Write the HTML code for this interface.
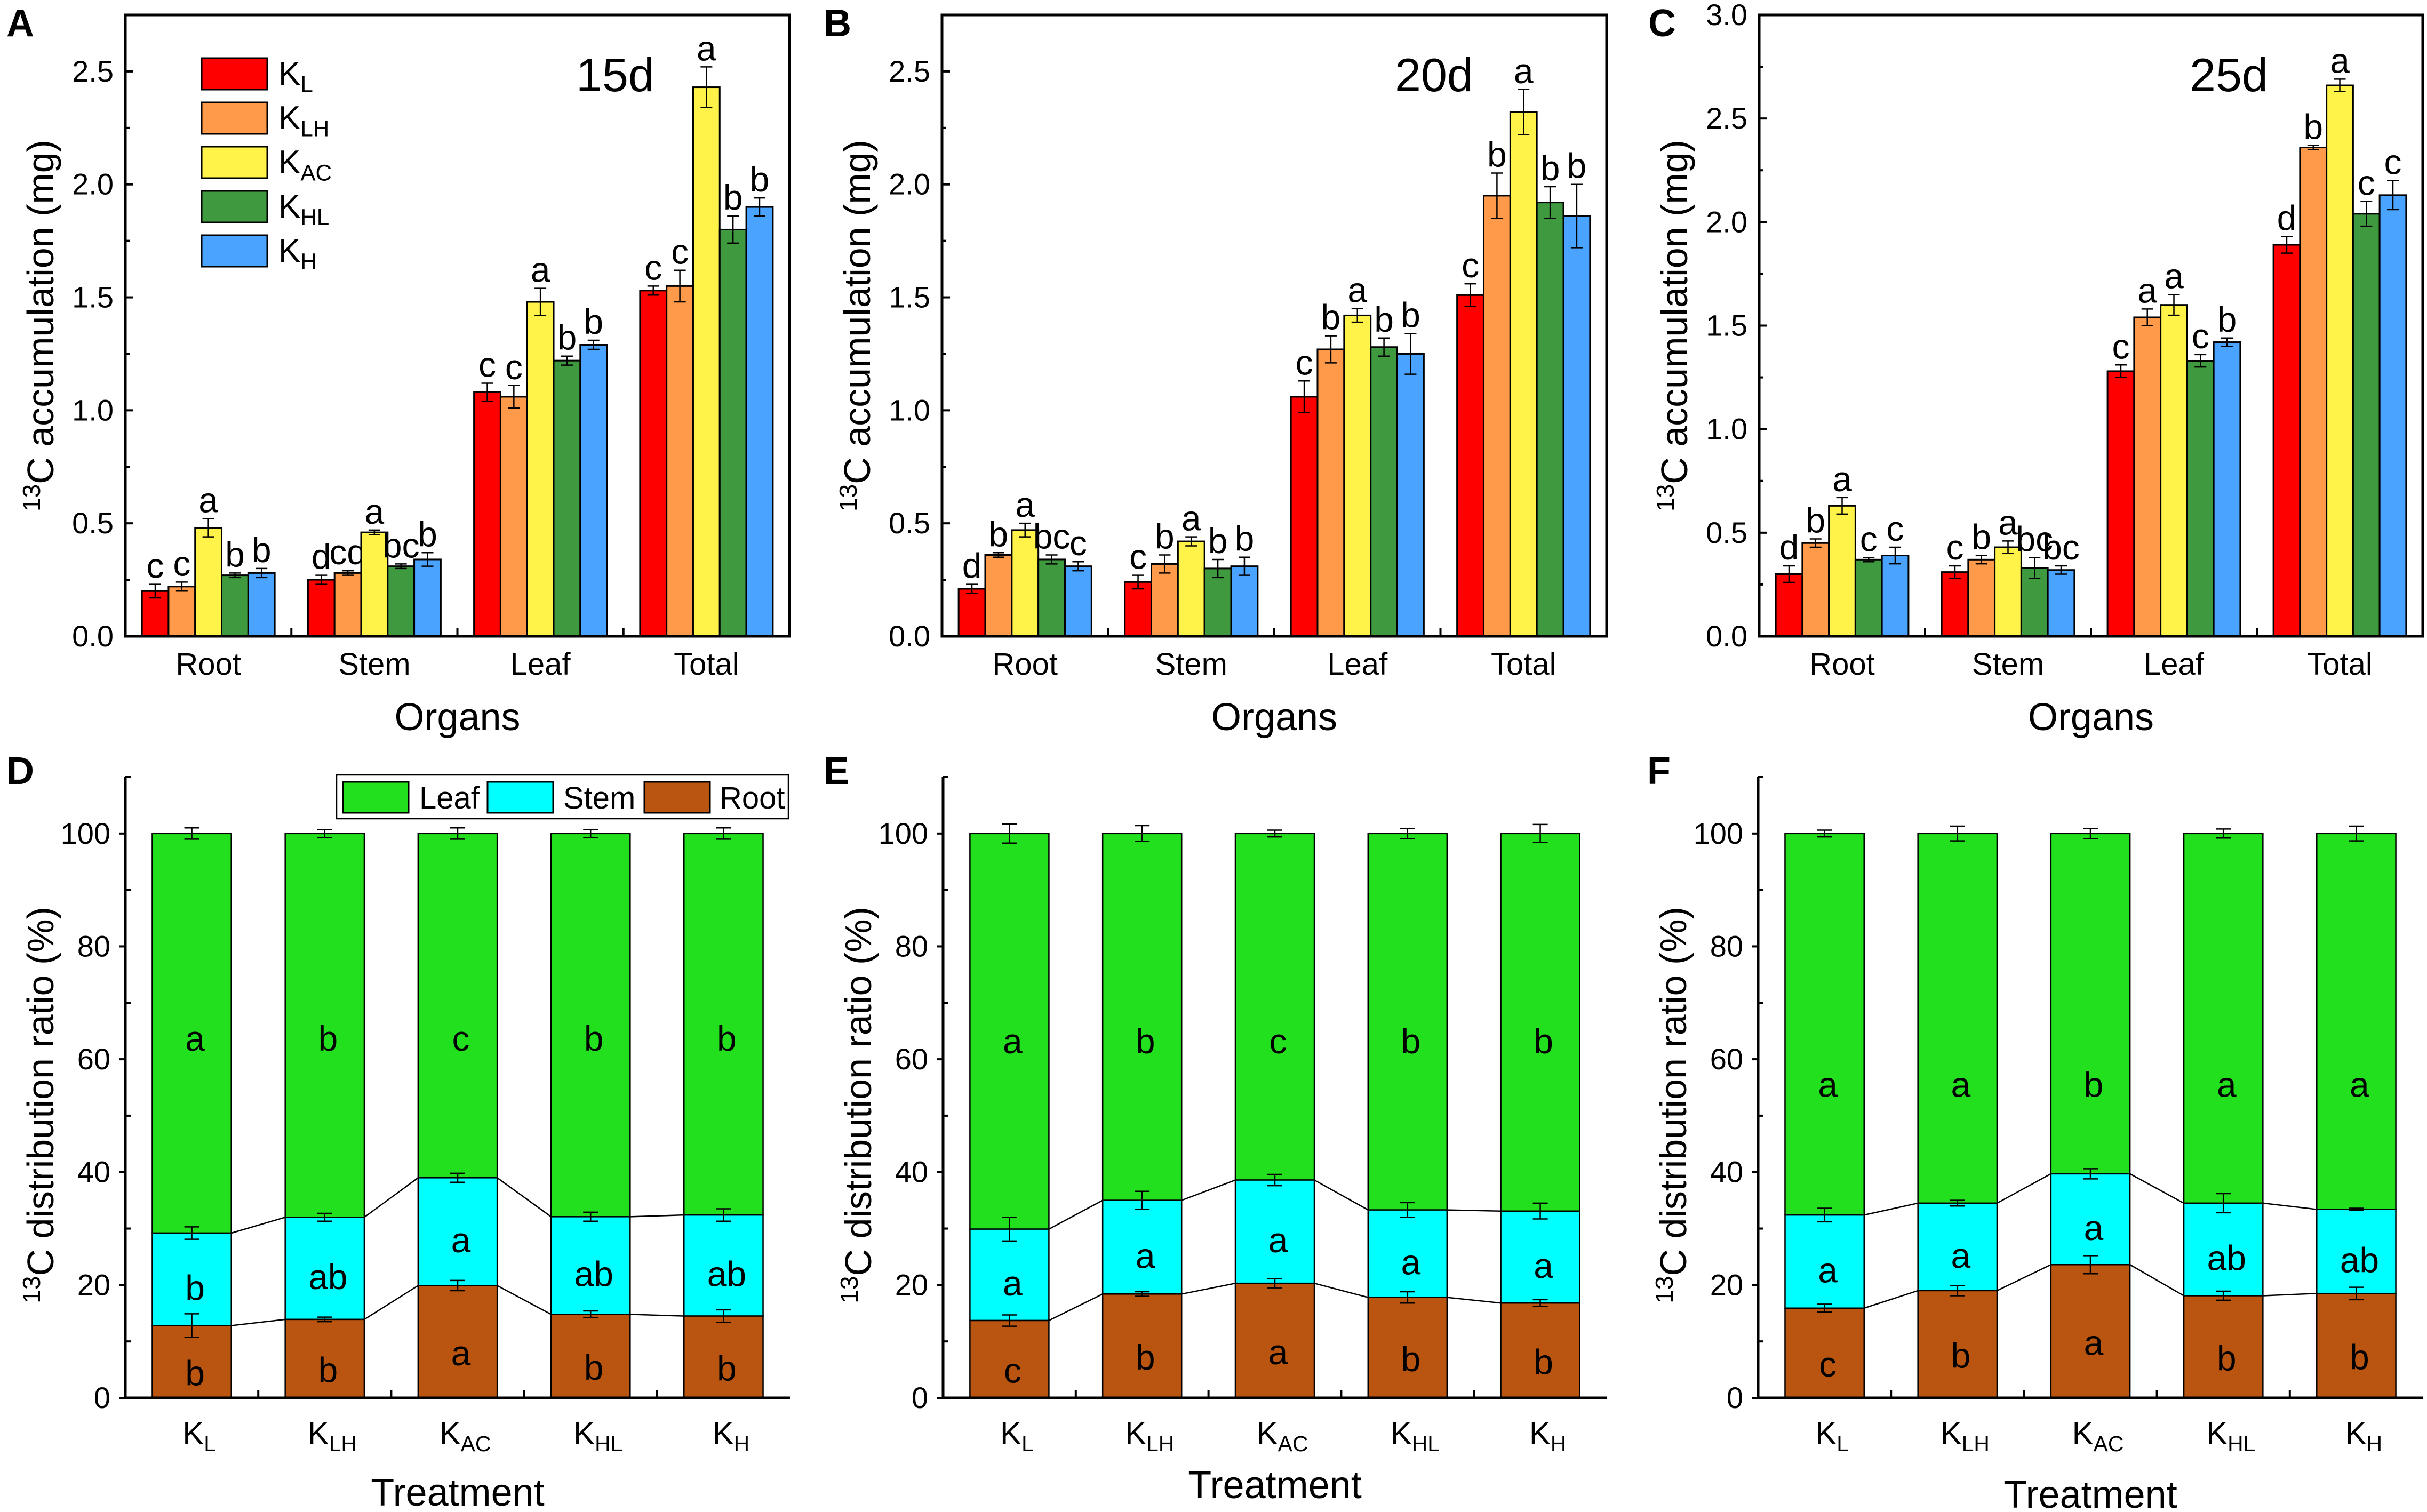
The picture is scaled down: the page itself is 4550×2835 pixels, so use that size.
<!DOCTYPE html>
<html><head><meta charset="utf-8"><style>
html,body{margin:0;padding:0;background:#fff}
svg{display:block;font-family:"Liberation Sans",Arial,sans-serif}
</style></head><body>
<svg id="fig" xmlns="http://www.w3.org/2000/svg" width="4550" height="2835" viewBox="0 0 4550 2835"></svg>
<script>
// ---------- Top row data (13C accumulation, mg) ----------
const organs = ["Root","Stem","Leaf","Total"];
const treatments = ["L","LH","AC","HL","H"];
// 15d
const valA = [[0.20,0.22,0.48,0.27,0.28],[0.25,0.28,0.46,0.31,0.34],[1.08,1.06,1.48,1.22,1.29],[1.53,1.55,2.43,1.80,1.90]];
const errA = [[0.03,0.02,0.04,0.01,0.02],[0.02,0.01,0.01,0.01,0.03],[0.04,0.05,0.06,0.02,0.02],[0.02,0.07,0.09,0.06,0.04]];
const letA = [["c","c","a","b","b"],["d","cd","a","bc","b"],["c","c","a","b","b"],["c","c","a","b","b"]];
// 20d
const valB = [[0.21,0.36,0.47,0.34,0.31],[0.24,0.32,0.42,0.30,0.31],[1.06,1.27,1.42,1.28,1.25],[1.51,1.95,2.32,1.92,1.86]];
const errB = [[0.02,0.01,0.03,0.02,0.02],[0.03,0.04,0.02,0.04,0.04],[0.07,0.06,0.03,0.04,0.09],[0.05,0.10,0.10,0.07,0.14]];
const letB = [["d","b","a","bc","c"],["c","b","a","b","b"],["c","b","a","b","b"],["c","b","a","b","b"]];
// 25d
const valC = [[0.30,0.45,0.63,0.37,0.39],[0.31,0.37,0.43,0.33,0.32],[1.28,1.54,1.60,1.33,1.42],[1.89,2.36,2.66,2.04,2.13]];
const errC = [[0.04,0.02,0.04,0.01,0.04],[0.03,0.02,0.03,0.05,0.02],[0.03,0.04,0.05,0.03,0.02],[0.04,0.01,0.03,0.06,0.07]];
const letC = [["d","b","a","c","c"],["c","b","a","bc","bc"],["c","a","a","c","b"],["d","b","a","c","c"]];
const ticksAB = [0,0.5,1.0,1.5,2.0,2.5];
const ticksC = [0,0.5,1.0,1.5,2.0,2.5,3.0];

// ---------- Bottom row data (distribution %, cumulative tops) ----------
const rootD = [12.8,13.9,19.9,14.8,14.5];
const rootErrD = [2.1,0.4,0.9,0.6,1.1];
const stemTopD = [29.2,32.0,39.0,32.1,32.4];
const stemErrD = [1.1,0.7,0.8,0.8,1.1];
const leafErrD = [1.0,0.7,1.0,0.7,1.0];
const letLeafD = ["a","b","c","b","b"];
const letStemD = ["b","ab","a","ab","ab"];
const letRootD = ["b","b","a","b","b"];

const rootE = [13.7,18.4,20.3,17.8,16.8];
const rootErrE = [1.0,0.4,0.8,1.0,0.6];
const stemTopE = [29.9,35.0,38.6,33.3,33.1];
const stemErrE = [2.1,1.6,1.0,1.3,1.4];
const leafErrE = [1.7,1.4,0.6,0.9,1.6];
const letLeafE = ["a","b","c","b","b"];
const letStemE = ["a","a","a","a","a"];
const letRootE = ["c","b","a","b","b"];

const rootF = [15.9,19.0,23.6,18.1,18.5];
const rootErrF = [0.7,0.9,1.6,0.8,1.1];
const stemTopF = [32.4,34.5,39.7,34.5,33.4];
const stemErrF = [1.2,0.5,0.9,1.7,0.2];
const leafErrF = [0.6,1.3,0.9,0.8,1.3];
const letLeafF = ["a","a","b","a","a"];
const letStemF = ["a","a","a","ab","ab"];
const letRootF = ["c","b","a","b","b"];
const ticksPct = [0,20,40,60,80,100];

const NS = "http://www.w3.org/2000/svg";
const svg = document.getElementById("fig");
const barColors = ["#ff0000","#ff9a4a","#fff34a","#3f9a3f","#4aa3ff"];
function mk(tag, attrs, parent){
  const e = document.createElementNS(NS, tag);
  for (const k in attrs) e.setAttribute(k, attrs[k]);
  (parent||svg).appendChild(e);
  return e;
}
function txt(s, x, y, size, parent, anchor, weight){
  const t = mk("text", {x:x, y:y, "font-size":size, "text-anchor":anchor||"middle", fill:"#000"}, parent);
  if (weight) t.setAttribute("font-weight", weight);
  t.textContent = s;
  return t;
}
function kLabel(sub, x, y, size, parent, anchor){
  const t = mk("text", {x:x, y:y, "font-size":size, "text-anchor":anchor||"middle", fill:"#000"}, parent);
  const a = mk("tspan", {}, t); a.textContent = "K";
  const b = mk("tspan", {"font-size":size*0.68, dy:size*0.22}, t); b.textContent = sub;
  return t;
}
function yTitle(x, cy, main, parent){
  const t = mk("text", {x:0, y:0, "font-size":70, "text-anchor":"middle", transform:"translate("+x+","+cy+") rotate(-90)"}, parent);
  const a = mk("tspan", {"font-size":46, dy:-25}, t); a.textContent = "13";
  const b = mk("tspan", {dy:25}, t); b.textContent = main;
  return t;
}

function barPanel(cfg){
  const g = mk("g", {});
  
  
  const {x0,x1,top,bot,ymax} = cfg;
  const y = v => bot - v/ymax*(bot-top);
  const gw = (x1-x0)/organs.length, bw = gw*0.16;
  organs.forEach((o,gi)=>{
    const cx = x0 + gw*(gi+0.5);
    treatments.forEach((t,ti)=>{
      const v = cfg.vals[gi][ti], e = cfg.errs[gi][ti];
      const bx = cx - 2.5*bw + ti*bw;
      const r = mk("rect", {x:bx, y:y(v), width:bw, height:bot-y(v), fill:barColors[ti], stroke:"#000", "stroke-width":3}, g);
      
      
      const mx = bx + bw/2;
      const eb = mk("path", {d:"M"+mx+" "+y(v+e)+"V"+y(v-e)+"M"+(mx-11)+" "+y(v+e)+"H"+(mx+11)+"M"+(mx-11)+" "+y(v-e)+"H"+(mx+11), stroke:"#000", "stroke-width":2.5, fill:"none"}, g);
      
      
      const l = txt(cfg.lets[gi][ti], mx, y(v+e)-12, 66, g);
      
      
    });
    const cl = txt(o, cx, 1265, 58, g);
    
    
    if (gi>0) mk("line", {x1:x0+gw*gi, x2:x0+gw*gi, y1:bot, y2:bot-15, stroke:"#000", "stroke-width":4}, g);
  });
  const step = 0.25;
  for (let v=0; v<=ymax+1e-9; v+=step){
    const major = Math.abs(v/0.5 - Math.round(v/0.5))<1e-6;
    mk("line", {x1:x0, x2:x0+(major?15:8), y1:y(v), y2:y(v), stroke:"#000", "stroke-width":4}, g);
  }
  cfg.ticks.forEach(v=>{
    const t = txt(v.toFixed(1), x0-22, y(v)+19, 56, g, "end");
    
    
  });
  const fr = mk("rect", {x:x0, y:top, width:x1-x0, height:bot-top, fill:"none", stroke:"#000", "stroke-width":5}, g);
  
  
  const xt = txt("Organs", (x0+x1)/2, 1369, 72, g);
  
  
  const yt = yTitle(x0-135, (top+bot)/2, "C accumulation (mg)", g);
  
  
  const pl = txt(cfg.label, cfg.lx, 68, 72, g, "start", "bold");
  
  
  const dl = txt(cfg.day, cfg.dx, 171, 88, g, "start");
  
  
  return g;
}

function stackPanel(cfg){
  const g = mk("g", {});
  
  
  const {x0,x1,top,bot,ymax} = cfg;
  const y = v => bot - v/ymax*(bot-top);
  const sw = (x1-x0)/treatments.length, bw = sw*0.595;
  const err = (mx, v, e) => {
    const p = mk("path", {d:"M"+mx+" "+y(v+e)+"V"+y(v-e)+"M"+(mx-14)+" "+y(v+e)+"H"+(mx+14)+"M"+(mx-14)+" "+y(v-e)+"H"+(mx+14), stroke:"#000", "stroke-width":2.5, fill:"none"}, g);
    
    
  };
  for (let i=0;i<treatments.length-1;i++){
    const xa = x0+sw*(i+0.5)+bw/2, xb = x0+sw*(i+1.5)-bw/2;
    const l1 = mk("line", {x1:xa, y1:y(cfg.root[i]), x2:xb, y2:y(cfg.root[i+1]), stroke:"#000", "stroke-width":2.5}, g);
    
    
    const l2 = mk("line", {x1:xa, y1:y(cfg.stem[i]), x2:xb, y2:y(cfg.stem[i+1]), stroke:"#000", "stroke-width":2.5}, g);
    
    
  }
  treatments.forEach((t,i)=>{
    const cx = x0+sw*(i+0.5), bx = cx-bw/2;
    const r = cfg.root[i], s = cfg.stem[i];
    const leaf = mk("rect", {x:bx, y:y(100), width:bw, height:y(s)-y(100), fill:"#22e01e", stroke:"#000", "stroke-width":2.5}, g);
    
    
    const stem = mk("rect", {x:bx, y:y(s), width:bw, height:y(r)-y(s), fill:"#00ffff", stroke:"#000", "stroke-width":2.5}, g);
    
    
    const root = mk("rect", {x:bx, y:y(r), width:bw, height:bot-y(r), fill:"#b95510", stroke:"#000", "stroke-width":2.5}, g);
    
    
    err(cx, 100, cfg.leafErr[i]); err(cx, s, cfg.stemErr[i]); err(cx, r, cfg.rootErr[i]);
    const a = txt(cfg.lLeaf[i], cx+6, y(cfg.leafPos)+23, 66, g);
    
    
    const b = txt(cfg.lStem[i], cx+6, y((r+s)/2-1.5)+23, 66, g);
    
    
    const c = txt(cfg.lRoot[i], cx+6, y(Math.max(4, r/2-2))+23, 66, g);
    
    
    const k = kLabel(t, cx+14, 2708, 60, g);
    
    
    if (i>0) mk("line", {x1:x0+sw*i, x2:x0+sw*i, y1:bot, y2:bot-14, stroke:"#000", "stroke-width":4}, g);
  });
  for (let v=0; v<=ymax; v+=10){
    const major = v%20===0;
    mk("line", {x1:x0-(major?12:0), x2:x0+(major?0:10), y1:y(v), y2:y(v), stroke:"#000", "stroke-width":4}, g);
  }
  ticksPct.forEach(v=>{
    const t = txt(String(v), x0-28, y(v)+19, 56, g, "end");
    
    
  });
  const ax = mk("path", {d:"M"+x0+" "+top+"V"+bot+"H"+x1, stroke:"#000", "stroke-width":5, fill:"none"}, g);
  
  
  const xt = txt("Treatment", (x0+x1)/2, cfg.tty, 72, g);
  
  
  const yt = yTitle(x0-135, (y(100)+bot)/2-20, "C distribution ratio (%)", g);
  
  
  const pl = txt(cfg.label, cfg.lx, 1470, 72, g, "start", "bold");
  
  
  return g;
}

barPanel({name:"panel-a-15d", x0:235, x1:1480, top:28, bot:1193, ymax:2.75, vals:valA, errs:errA, lets:letA, ticks:ticksAB, label:"A", lx:12, day:"15d", dx:1080});
barPanel({name:"panel-b-20d", x0:1766, x1:3012, top:28, bot:1193, ymax:2.75, vals:valB, errs:errB, lets:letB, ticks:ticksAB, label:"B", lx:1544, day:"20d", dx:2615});
barPanel({name:"panel-c-25d", x0:3298, x1:4542, top:28, bot:1193, ymax:3.0, vals:valC, errs:errC, lets:letC, ticks:ticksC, label:"C", lx:3090, day:"25d", dx:4105});

const leg = mk("g", {});


treatments.forEach((t,i)=>{
  const r = mk("rect", {x:378, y:109+i*83, width:123, height:59, fill:barColors[i], stroke:"#000", "stroke-width":3}, leg);
  
  
  const k = kLabel(t, 522, 109+i*83+50, 62, leg, "start");
  
  
});

stackPanel({name:"panel-d-15d", x0:235, x1:1481, top:1457, bot:2621, ymax:110, root:rootD, rootErr:rootErrD, stem:stemTopD, stemErr:stemErrD, leafErr:leafErrD, lLeaf:letLeafD, lStem:letStemD, lRoot:letRootD, leafPos:63.7, label:"D", lx:12, tty:2823});
stackPanel({name:"panel-e-20d", x0:1768, x1:3012, top:1457, bot:2621, ymax:110, root:rootE, rootErr:rootErrE, stem:stemTopE, stemErr:stemErrE, leafErr:leafErrE, lLeaf:letLeafE, lStem:letStemE, lRoot:letRootE, leafPos:63.2, label:"E", lx:1544, tty:2809});
stackPanel({name:"panel-f-25d", x0:3296, x1:4542, top:1457, bot:2621, ymax:110, root:rootF, rootErr:rootErrF, stem:stemTopF, stemErr:stemErrF, leafErr:leafErrF, lLeaf:letLeafF, lStem:letStemF, lRoot:letRootF, leafPos:55.5, label:"F", lx:3088, tty:2827});

const leg2 = mk("g", {});


const lb = mk("rect", {x:631, y:1453, width:847, height:82, fill:"#fff", stroke:"#000", "stroke-width":2.5}, leg2);


[["Leaf","#22e01e",643,786],["Stem","#00ffff",914,1056],["Root","#b95510",1208,1349]].forEach(d=>{
  const r = mk("rect", {x:d[2], y:1466, width:123, height:58, fill:d[1], stroke:"#000", "stroke-width":3}, leg2);
  
  
  const t = txt(d[0], d[3], 1516, 58, leg2, "start");
  
  
});
</script>
</body></html>
